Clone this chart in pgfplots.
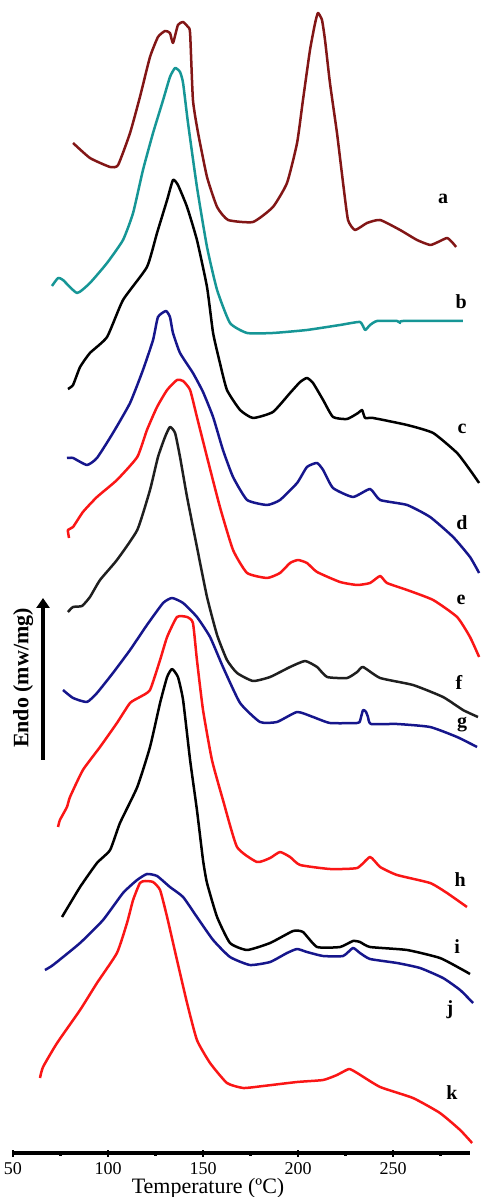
\documentclass[border=0pt]{standalone}
\usepackage{fontspec}
\setmainfont{Liberation Serif}
\usepackage{pgfplots}
\pgfplotsset{compat=1.18}
\usetikzlibrary{arrows.meta}

\definecolor{curveA}{RGB}{130,22,22}
\definecolor{curveB}{RGB}{22,150,150}
\definecolor{navyc}{RGB}{22,22,140}
\definecolor{redc}{RGB}{250,22,22}

\begin{document}
\begin{tikzpicture}
\begin{axis}[
  scale only axis, width=228.5pt, height=576.5pt,
  xmin=50, xmax=290.5, ymin=-1153, ymax=0,
  axis x line*=bottom, axis y line=none,
  clip=false,
  xtick={50,100,150,200,250}, minor xtick={75,125,175,225,275},
  tick align=center, major tick length=3.5pt, minor tick length=2.5pt,
  tick style={black, line width=1.4pt},
  x axis line style={line width=1.8pt},
  /pgf/number format/assume math mode=true,
  xticklabel style={font=\fontsize{9}{10}\selectfont},
  xticklabel shift=-0.3pt,
  xlabel={Temperature (ºC)},
  xlabel style={at={(axis description cs:0.4267,0)}, anchor=north, inner sep=0pt, yshift=-12.5pt, font=\fontsize{11}{13}\selectfont},
  every axis plot/.append style={line width=1.25pt, line join=round, no markers, smooth, tension=0.3},
]
% a
\addplot[curveA] coordinates {(81.6,-143)(90.5,-158)(101.1,-167)(105.3,-165)(111.6,-133)(116.8,-97)(122.1,-57)(126.3,-37)(130.0,-31)(132.6,-33)(134.2,-43)(136.8,-25)(139.5,-22)(142.1,-27)(143.2,-33)(144.7,-100)(147.4,-133)(152.1,-177)(157.4,-207)(163.2,-220)(176.3,-222)(186.8,-207)(194.2,-183)(199.5,-143)(202.6,-100)(206.3,-50)(209.0,-23)(210.5,-13)(212.6,-20)(214.2,-40)(216.8,-83)(220.5,-133)(223.7,-183)(226.3,-220)(230.0,-230)(236.3,-223)(243.2,-220)(253.7,-230)(262.6,-240)(269.5,-245)(273.7,-242)(278.4,-238)(281.0,-242)(283.2,-247)};
% b
\addplot[curveB] coordinates {(70.5,-286)(73.7,-278)(76.3,-280)(83.7,-293)(90.5,-283)(99.5,-263)(107.9,-240)(113.2,-213)(118.4,-170)(123.7,-133)(129.0,-100)(132.6,-77)(135.3,-68)(137.9,-72)(139.5,-83)(142.1,-123)(146.8,-187)(152.1,-247)(157.4,-290)(164.2,-323)(173.2,-333)(186.8,-333)(204.7,-330)(222.1,-325)(232.6,-322)(235.3,-330)(237.9,-325)(241.6,-321)(252.1,-321)(253.7,-323)(255.3,-321)(286.8,-321)};
% c
\addplot[black] coordinates {(78.9,-389)(81.6,-385)(85.3,-367)(90.5,-353)(99.5,-337)(107.9,-300)(120.5,-267)(125.8,-233)(131.1,-200)(134.2,-180)(136.8,-185)(141.6,-207)(146.8,-240)(152.1,-287)(155.3,-333)(158.9,-363)(162.6,-390)(169.5,-410)(176.3,-418)(186.8,-412)(195.8,-393)(201.1,-382)(204.7,-378)(207.9,-383)(213.2,-400)(218.4,-417)(225.8,-419)(231.6,-413)(233.7,-410)(235.3,-418)(239.5,-418)(257.4,-425)(271.1,-433)(283.7,-453)(290.5,-470)(295.3,-483)};
% d
\addplot[navyc] coordinates {(78.4,-458)(81.6,-458)(88.9,-465)(94.2,-458)(102.6,-433)(111.6,-403)(118.4,-370)(123.7,-340)(126.3,-317)(130.5,-311)(132.6,-317)(134.2,-333)(137.9,-353)(144.7,-373)(150.0,-392)(155.3,-417)(160.5,-450)(165.8,-477)(173.2,-500)(183.7,-505)(190.5,-500)(199.5,-483)(204.7,-467)(210.0,-463)(213.2,-470)(218.4,-488)(228.9,-497)(237.9,-489)(243.2,-500)(257.4,-505)(269.5,-517)(281.6,-537)(290.5,-557)(295.3,-573)};
% e
\addplot[redc] coordinates {(79.5,-538)(78.9,-530)(81.6,-527)(86.8,-512)(94.2,-497)(104.7,-480)(115.4,-457)(120.5,-430)(125.8,-407)(131.1,-390)(136.3,-380)(139.5,-381)(143.2,-390)(146.8,-417)(152.1,-457)(158.9,-507)(165.8,-550)(173.2,-573)(183.7,-578)(190.5,-573)(195.8,-563)(200.0,-560)(204.7,-563)(210.0,-572)(222.1,-582)(231.1,-585)(237.9,-583)(243.2,-576)(246.8,-583)(257.4,-590)(271.1,-600)(283.7,-617)(290.5,-637)(295.3,-657)};
% f
\addplot[black!88] coordinates {(78.9,-612)(81.6,-607)(86.3,-606)(90.5,-597)(95.8,-580)(104.7,-560)(115.4,-530)(122.1,-490)(126.3,-457)(130.0,-437)(132.6,-427)(135.3,-433)(137.9,-457)(141.6,-497)(146.8,-547)(152.1,-597)(157.4,-635)(162.6,-660)(167.9,-673)(176.3,-681)(185.3,-677)(195.8,-667)(203.7,-661)(210.0,-667)(215.3,-677)(225.8,-678)(231.1,-672)(234.2,-667)(243.2,-678)(260.5,-685)(276.3,-697)(286.8,-710)(294.7,-717)};
% g
\addplot[navyc] coordinates {(76.3,-690)(81.6,-698)(88.9,-702)(94.2,-693)(102.6,-673)(111.6,-650)(120.5,-625)(129.0,-603)(133.7,-598)(139.5,-603)(146.8,-617)(153.7,-637)(160.5,-667)(169.5,-703)(180.0,-722)(188.9,-722)(199.5,-712)(207.9,-717)(216.8,-723)(231.1,-723)(232.6,-721)(234.2,-710)(235.8,-712)(236.8,-717)(238.4,-724)(252.1,-724)(269.5,-727)(283.7,-737)(294.2,-747)};
% h
\addplot[redc] coordinates {(73.7,-827)(74.7,-820)(78.4,-807)(80.0,-797)(86.8,-770)(95.8,-747)(104.7,-723)(111.6,-703)(116.8,-697)(122.1,-690)(127.4,-660)(131.1,-637)(136.3,-617)(141.6,-617)(144.7,-623)(146.8,-660)(150.0,-710)(154.7,-760)(160.5,-800)(167.9,-847)(178.4,-862)(185.3,-858)(190.5,-852)(195.8,-857)(201.1,-865)(216.8,-869)(231.1,-868)(237.9,-857)(243.2,-867)(252.1,-875)(269.5,-883)(278.4,-893)(288.9,-907)};
% i
\addplot[black] coordinates {(75.8,-917)(85.3,-887)(94.2,-863)(101.1,-850)(106.3,-823)(115.4,-787)(122.1,-747)(127.4,-703)(131.1,-677)(133.7,-669)(136.8,-677)(139.5,-700)(143.2,-760)(146.8,-810)(150.0,-860)(152.1,-883)(157.4,-917)(164.2,-943)(173.2,-950)(185.3,-943)(197.4,-931)(202.6,-932)(210.0,-947)(222.1,-947)(228.9,-941)(232.6,-942)(237.9,-947)(257.4,-950)(274.7,-958)(286.8,-970)(290.5,-974)};
% j
\addplot[navyc] coordinates {(66.8,-970)(71.1,-965)(85.3,-943)(97.4,-920)(107.9,-893)(115.3,-880)(120.5,-874)(125.8,-876)(132.6,-887)(139.5,-897)(146.8,-917)(155.3,-940)(164.2,-957)(174.7,-965)(185.3,-962)(194.2,-953)(199.5,-949)(204.7,-952)(213.2,-956)(223.7,-956)(228.9,-948)(232.6,-953)(237.9,-959)(252.1,-963)(264.2,-968)(276.3,-978)(285.3,-990)(292.1,-1003)};
% k
\addplot[redc] coordinates {(64.2,-1078)(65.8,-1067)(73.2,-1043)(85.3,-1010)(94.2,-983)(104.7,-953)(110.0,-923)(113.2,-900)(116.8,-883)(119.5,-881)(123.7,-882)(127.4,-890)(131.1,-917)(136.3,-960)(141.6,-1003)(146.8,-1040)(153.7,-1063)(162.6,-1083)(171.2,-1088)(181.7,-1086)(199.5,-1082)(213.2,-1080)(220.5,-1075)(226.8,-1069)(231.1,-1073)(243.2,-1087)(260.5,-1098)(274.7,-1113)(285.3,-1130)(291.6,-1143)};

\begin{scope}[font=\bfseries\fontsize{10}{12}\selectfont]
\node at (axis cs:276.3,-199) {a};
\node at (axis cs:285.8,-302) {b};
\node at (axis cs:286.3,-429) {c};
\node at (axis cs:286.3,-523) {d};
\node at (axis cs:285.8,-600) {e};
\node at (axis cs:284.7,-682) {f};
\node at (axis cs:286.3,-725) {g};
\node at (axis cs:285.3,-880) {h};
\node at (axis cs:283.7,-947) {i};
\node at (axis cs:280.0,-1010) {j};
\node at (axis cs:281.0,-1093) {k};
\end{scope}
\node[rotate=90, font=\bfseries\fontsize{11}{13}\selectfont] at (axis cs:55.3,-678) {Endo (mw/mg)};
\draw[line width=1.75pt, -{Triangle[width=6.5pt,length=5pt]}] (axis cs:65.8,-760) -- (axis cs:65.8,-598);
\coordinate (bbsw) at (axis cs:43.16,-1197);
\coordinate (bbne) at (axis cs:295.79,0);
\end{axis}
\pgfresetboundingbox
\path[use as bounding box] (bbsw) rectangle (bbne);
\end{tikzpicture}
\end{document}
